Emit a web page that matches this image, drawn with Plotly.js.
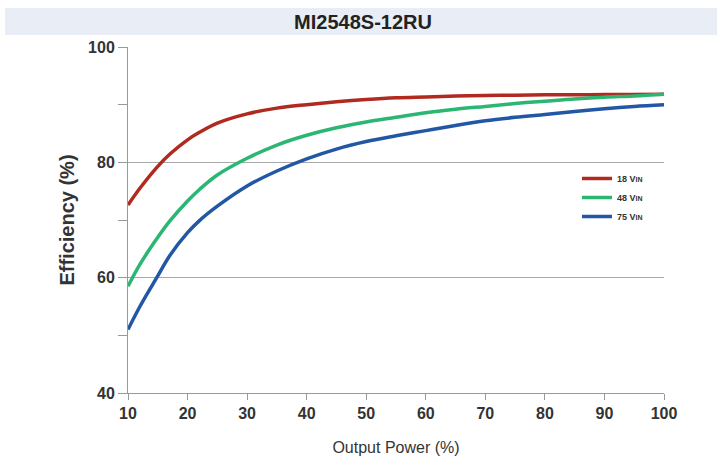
<!DOCTYPE html>
<html>
<head>
<meta charset="utf-8">
<script src="https://cdn.plot.ly/plotly-3.0.1.min.js"></script>
<style>
  html, body { margin: 0; padding: 0; background: #fff; }
  #chart { width: 717px; height: 466px; }
</style>
</head>
<body>
<div id="chart"></div>
<script>
const chartTitle = 'MI2548S-12RU';
const outputPower = [10, 12, 15, 17, 20, 22, 25, 30, 35, 40, 45, 50, 55, 60, 65, 70, 75, 80, 85, 90, 95, 100];
const eff18 = [72.6, 75.5, 79.3, 81.4, 83.9, 85.2, 86.8, 88.4, 89.4, 90.0, 90.5, 90.9, 91.2, 91.35, 91.5, 91.6, 91.65, 91.7, 91.7, 91.75, 91.75, 91.8];
const eff48 = [58.5, 62.3, 67.0, 69.8, 73.3, 75.3, 77.8, 80.7, 83.0, 84.7, 86.0, 87.0, 87.8, 88.6, 89.2, 89.7, 90.2, 90.6, 91.0, 91.3, 91.5, 91.8];
const eff75 = [51.0, 55.0, 60.3, 63.8, 67.8, 69.9, 72.4, 75.9, 78.5, 80.6, 82.3, 83.6, 84.6, 85.5, 86.4, 87.2, 87.8, 88.3, 88.8, 89.3, 89.7, 90.0];
const seriesNames = ['18 V<span style="font-size:7px">IN</span>', '48 V<span style="font-size:7px">IN</span>', '75 V<span style="font-size:7px">IN</span>'];
const seriesColors = ['#b02a20', '#2bb673', '#2257a5'];
const xTitle = 'Output Power (%)';
const yTitle = 'Efficiency (%)';

const series = [eff18, eff48, eff75];
const traces = series.map((ys, i) => ({
  x: outputPower,
  y: ys,
  type: 'scatter',
  mode: 'lines',
  name: seriesNames[i],
  line: { color: seriesColors[i], width: 3.5, shape: 'spline', smoothing: 1 },
  hoverinfo: 'x+y'
}));

const tickFont = { family: 'Liberation Sans, Arial, sans-serif', size: 16, color: '#333', weight: 'bold' };

const layout = {
  width: 717,
  height: 466,
  margin: { l: 128, r: 53, t: 47, b: 73, pad: 0 },
  paper_bgcolor: '#ffffff',
  plot_bgcolor: '#ffffff',
  title: {
    text: chartTitle,
    font: { family: 'Liberation Sans, Arial, sans-serif', size: 20, color: '#222', weight: 'bold' },
    x: 363 / 717, xref: 'container', xanchor: 'center',
    y: 1 - 22 / 466, yref: 'container', yanchor: 'middle'
  },
  shapes: [{
    type: 'rect', xref: 'paper', yref: 'paper', layer: 'below',
    x0: (5 - 128) / 536, x1: (717 - 128) / 536,
    y0: (393 - 35) / 346, y1: (393 - 8) / 346,
    fillcolor: '#e9edf6', line: { width: 0 }
  }],
  xaxis: {
    range: [10, 100],
    tick0: 10, dtick: 10,
    ticks: 'outside', ticklen: 6, tickcolor: '#999', tickwidth: 1,
    showline: true, linecolor: '#999', linewidth: 1,
    showgrid: false, zeroline: false,
    tickfont: tickFont,
    title: { text: xTitle, font: { family: 'Liberation Sans, Arial, sans-serif', size: 16, color: '#333' }, standoff: 20 }
  },
  yaxis: {
    range: [40, 100],
    tick0: 40, dtick: 20,
    ticks: 'outside', ticklen: 9, tickcolor: '#999', tickwidth: 1,
    showline: true, linecolor: '#999', linewidth: 1,
    showgrid: true, gridcolor: '#a8a8a8', gridwidth: 1,
    zeroline: false,
    minor: { dtick: 10, ticks: 'outside', ticklen: 9, tickcolor: '#999', showgrid: false },
    tickfont: tickFont,
    title: { text: yTitle, font: { family: 'Liberation Sans, Arial, sans-serif', size: 20, color: '#333', weight: 'bold' }, standoff: 8 }
  },
  showlegend: true,
  legend: {
    x: (577 - 128) / 536, xanchor: 'left',
    y: (393 - 164) / 346, yanchor: 'top',
    bgcolor: 'rgba(0,0,0,0)',
    font: { family: 'Liberation Sans, Arial, sans-serif', size: 9, color: '#333', weight: 'bold' },
    tracegroupgap: 0, itemwidth: 30
  }
};

Plotly.newPlot('chart', traces, layout, { displayModeBar: false, staticPlot: true });
</script>
</body>
</html>
